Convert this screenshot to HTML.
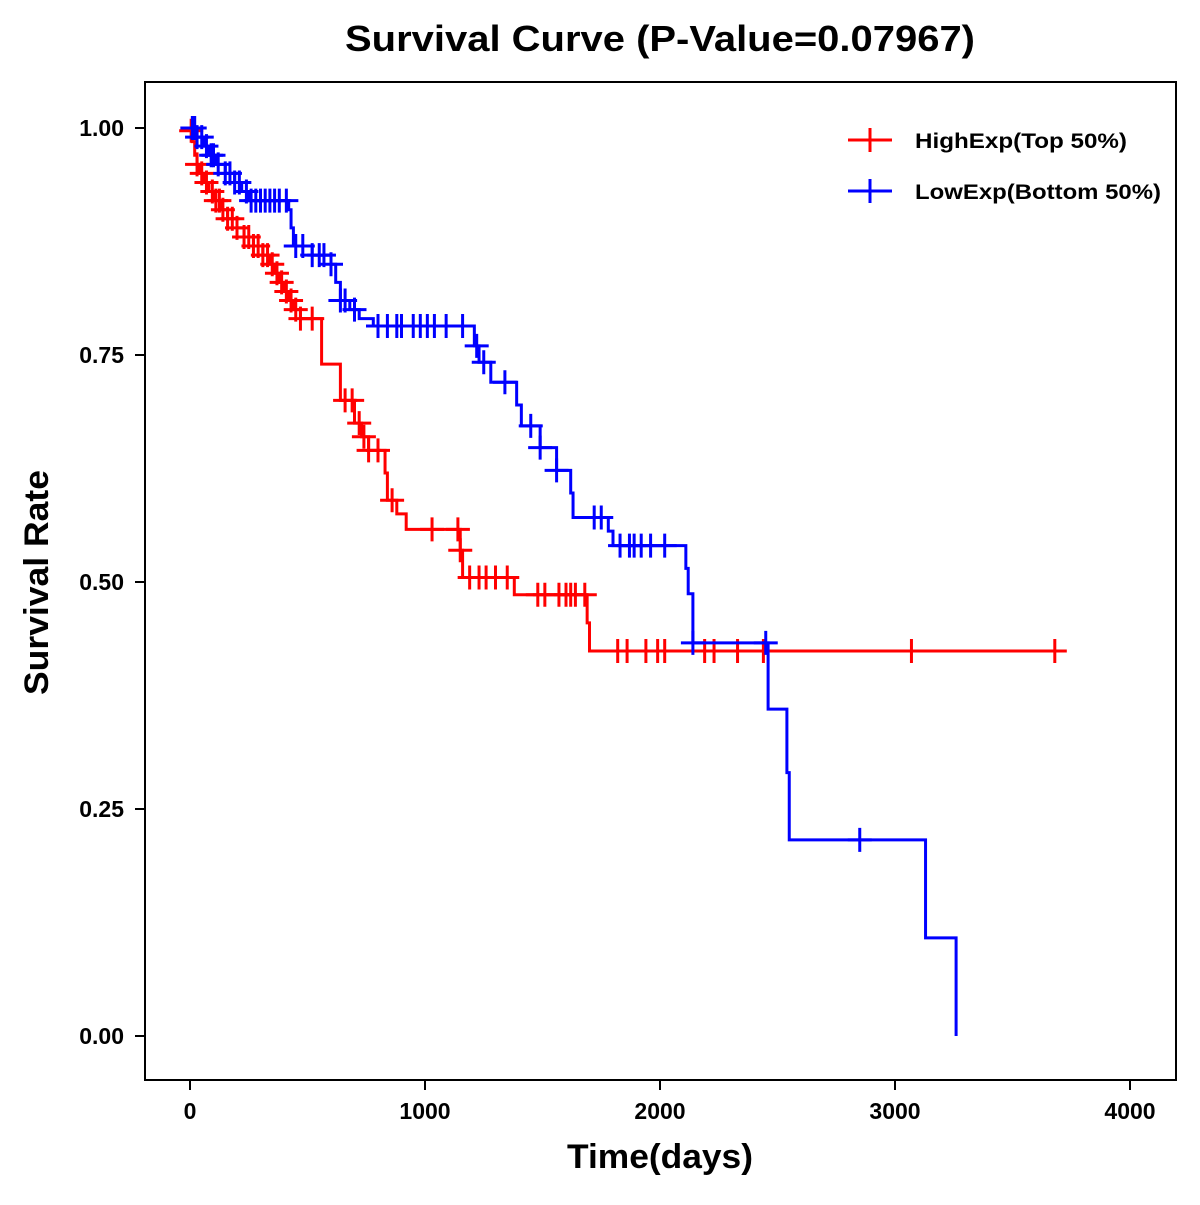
<!DOCTYPE html>
<html><head><meta charset="utf-8"><style>
body{margin:0;background:#fff}
svg text{font-family:"Liberation Sans",Arial,sans-serif;font-weight:bold}
</style></head><body>
<svg id="chart" width="1200" height="1200" viewBox="0 0 1200 1200">
<text x="345" y="51" font-size="36" textLength="630" lengthAdjust="spacingAndGlyphs">Survival Curve (P-Value=0.07967)</text>
<rect x="145" y="82" width="1031" height="998" fill="none" stroke="#000" stroke-width="2"/>
<g id="axes"></g>
<g id="series"></g>
<text x="567" y="1168" font-size="34" textLength="186" lengthAdjust="spacingAndGlyphs">Time(days)</text>
<text transform="translate(48,695) rotate(-90)" font-size="34" textLength="225" lengthAdjust="spacingAndGlyphs">Survival Rate</text>
<g>
<line x1="848" y1="140" x2="892" y2="140" stroke="#f00" stroke-width="3"/><line x1="870" y1="128" x2="870" y2="152" stroke="#f00" stroke-width="3"/>
<text x="915" y="148" font-size="21" textLength="212" lengthAdjust="spacingAndGlyphs">HighExp(Top 50%)</text>
<line x1="848" y1="191" x2="892" y2="191" stroke="#00f" stroke-width="3"/><line x1="870" y1="179" x2="870" y2="203" stroke="#00f" stroke-width="3"/>
<text x="915" y="199" font-size="21" textLength="246" lengthAdjust="spacingAndGlyphs">LowExp(Bottom 50%)</text>
</g>
</svg>
<script>
const xTicks=[0,1000,2000,3000,4000];
const yTicks=[0,0.25,0.5,0.75,1.0];
const yTickLabels=["0.00","0.25","0.50","0.75","1.00"];
const highTimes=[0,10,20,30,40,60,80,100,130,160,200,230,270,310,340,360,380,400,420,440,470,560,640,700,730,760,830,840,880,920,1150,1160,1380,1690,1700];
const highSurv=[0.997,0.985,0.97,0.96,0.95,0.94,0.93,0.92,0.91,0.90,0.89,0.88,0.87,0.86,0.85,0.84,0.83,0.82,0.81,0.80,0.79,0.74,0.70,0.675,0.66,0.645,0.62,0.59,0.575,0.558,0.535,0.505,0.486,0.455,0.424];
const highEnd=3700;
const highCensor=[5,30,50,70,95,110,125,140,160,180,200,230,250,270,290,310,330,350,370,390,410,430,450,470,520,660,690,720,740,760,800,860,1030,1140,1150,1190,1230,1260,1300,1350,1480,1510,1570,1600,1620,1640,1680,1820,1860,1940,1990,2020,2190,2230,2330,2440,3070,3680];
const lowTimes=[0,30,60,80,110,150,190,220,250,420,430,440,520,600,620,640,680,720,780,1210,1230,1280,1390,1410,1490,1560,1620,1630,1780,1800,2110,2120,2140,2460,2540,2550,3130,3260];
const lowSurv=[1.0,0.99,0.98,0.97,0.96,0.95,0.94,0.93,0.92,0.91,0.89,0.87,0.86,0.85,0.83,0.81,0.80,0.79,0.782,0.76,0.742,0.72,0.695,0.672,0.648,0.623,0.598,0.571,0.556,0.54,0.515,0.487,0.433,0.36,0.29,0.216,0.108,0.0];
const lowEnd=3260;
const lowCensor=[10,15,20,30,50,70,90,100,120,150,170,190,210,240,260,280,300,320,340,360,380,410,450,480,520,550,570,600,640,660,700,800,840,880,900,950,980,1010,1040,1090,1160,1220,1250,1340,1450,1490,1560,1720,1750,1830,1870,1890,1920,1960,2020,2140,2450,2850];

const NS="http://www.w3.org/2000/svg";
const sx=t=>190+t*0.235;
const sy=v=>1036-v*908;
function mk(tag,attrs,parent){const e=document.createElementNS(NS,tag);for(const k in attrs)e.setAttribute(k,attrs[k]);parent.appendChild(e);return e;}
const axes=document.getElementById('axes');
xTicks.forEach(t=>{
  const l=mk('line',{x1:sx(t),x2:sx(t),y1:1080,y2:1090,stroke:'#000','stroke-width':2},axes);
  
  
  const tx=mk('text',{x:sx(t),y:1119,'text-anchor':'middle','font-size':23},axes);tx.textContent=t;
  
  
});
yTicks.forEach((v,i)=>{
  const l=mk('line',{x1:135,x2:145,y1:sy(v),y2:sy(v),stroke:'#000','stroke-width':2},axes);
  
  
  const tx=mk('text',{x:124,y:sy(v)+8,'text-anchor':'end','font-size':23},axes);tx.textContent=yTickLabels[i];
  
  
});
const sg=document.getElementById('series');
function stepAt(times,surv,t){let v=surv[0];for(let i=0;i<times.length;i++){if(times[i]<=t)v=surv[i];}return v;}
function draw(times,surv,end,cens,color,name){
  let d='M'+sx(times[0])+','+sy(surv[0]);
  for(let i=1;i<times.length;i++){d+=' H'+sx(times[i])+' V'+sy(surv[i]);}
  d+=' H'+sx(end);
  const p=mk('path',{d:d,fill:'none',stroke:color,'stroke-width':3},sg);
  
  
  cens.forEach(t=>{
    const v=stepAt(times,surv,t);const x=sx(t),y=sy(v);
    const c=mk('path',{d:`M${x-12},${y} H${x+12} M${x},${y-12} V${y+12}`,stroke:color,'stroke-width':3,fill:'none'},sg);
    
    
  });
}
draw(highTimes,highSurv,highEnd,highCensor,'#f00','high-exp');
draw(lowTimes,lowSurv,lowEnd,lowCensor,'#00f','low-exp');
</script>
</body></html>
